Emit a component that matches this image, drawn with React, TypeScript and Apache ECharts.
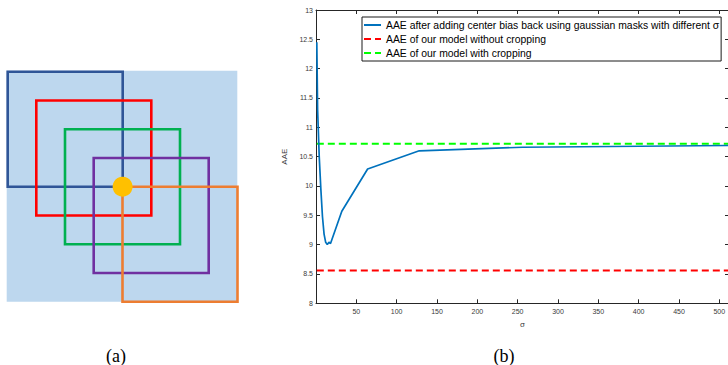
import React, { useEffect, useRef } from "react";
import * as echarts from "echarts";

// ---- data ----
const sigmaValues = [1, 2, 4, 6, 8, 10, 12, 14, 16, 18, 32, 64, 128, 256, 512];
const aaeGaussian = [12.45, 11.3, 10.5, 9.95, 9.48, 9.18, 9.04, 9.0, 9.04, 9.02, 9.57, 10.29, 10.6, 10.66, 10.69];
const aaeWithoutCropping = 8.56;
const aaeWithCropping = 10.72;
const sigmaRange = [0, 512];
const legendNames = [
  "AAE after adding center bias back using gaussian masks with different σ",
  "AAE of our model without cropping",
  "AAE of our model with cropping",
];
const captions = ["(a)", "(b)"];

export default function App() {
  const ref = useRef<HTMLDivElement>(null);

  useEffect(() => {
    if (!ref.current) return;
    const chart = echarts.init(ref.current, undefined, { renderer: "svg" });
    const axisColor = "#262626";
    const labelColor = "#3a3a3a";
    const font = "Liberation Sans, Arial, sans-serif";

    const baseX = {
      type: "value" as const,
      min: sigmaRange[0],
      max: sigmaRange[1],
      interval: 50,
      splitLine: { show: false },
      axisLine: { show: true, onZero: false, lineStyle: { color: axisColor, width: 1 } },
      axisTick: { show: true, inside: true, length: 4, lineStyle: { color: axisColor } },
    };
    const baseY = {
      type: "value" as const,
      min: 8,
      max: 13,
      interval: 0.5,
      splitLine: { show: false },
      axisLine: { show: true, onZero: false, lineStyle: { color: axisColor, width: 1 } },
      axisTick: { show: true, inside: true, length: 4, lineStyle: { color: axisColor } },
    };

    const squares = [
      { x: 7.7, y: 71.7, color: "#2F5597" },
      { x: 36.3, y: 100.5, color: "#FF0000" },
      { x: 65, y: 129.3, color: "#00B050" },
      { x: 93.7, y: 158, color: "#7030A0" },
      { x: 122.5, y: 186.7, color: "#ED7D31" },
    ];

    chart.setOption({
      animation: false,
      backgroundColor: "#ffffff",
      textStyle: { fontFamily: font },
      grid: { left: 316, top: 10, width: 413, height: 293.3 },
      legend: {
        orient: "vertical",
        left: 362,
        top: 17,
        padding: [3, 2, 3, 1],
        itemWidth: 17,
        itemHeight: 10,
        itemGap: 4,
        borderColor: "#1a1a1a",
        borderWidth: 1,
        backgroundColor: "#ffffff",
        itemStyle: { opacity: 0 },
        textStyle: { fontSize: 10.4, color: "#000", fontFamily: font },
        data: legendNames,
      },
      xAxis: [
        {
          ...baseX,
          position: "bottom",
          name: "σ",
          nameLocation: "middle",
          nameGap: 15,
          nameTextStyle: { fontSize: 8, color: labelColor, fontFamily: font },
          axisLabel: {
            fontSize: 7,
            color: labelColor,
            margin: 5,
            showMinLabel: false,
            showMaxLabel: false,
          },
        },
        { ...baseX, position: "top", axisLabel: { show: false } },
      ],
      yAxis: [
        {
          ...baseY,
          position: "left",
          name: "AAE",
          nameLocation: "middle",
          nameGap: 20,
          nameRotate: 90,
          nameTextStyle: { fontSize: 8, color: labelColor, fontFamily: font },
          axisLabel: { fontSize: 7, color: labelColor, margin: 3 },
        },
        { ...baseY, position: "right", axisLabel: { show: false } },
      ],
      series: [
        {
          name: legendNames[0],
          type: "line",
          xAxisIndex: 0,
          yAxisIndex: 0,
          symbol: "none",
          data: sigmaValues.map((s, i) => [s, aaeGaussian[i]]),
          lineStyle: { color: "#0072BD", width: 1.7 },
          itemStyle: { color: "#0072BD" },
          z: 3,
        },
        {
          name: legendNames[1],
          type: "line",
          xAxisIndex: 0,
          yAxisIndex: 0,
          symbol: "none",
          data: [
            [sigmaValues[0], aaeWithoutCropping],
            [sigmaRange[1], aaeWithoutCropping],
          ],
          lineStyle: { color: "#FF0000", width: 2, type: [7, 4] },
          itemStyle: { color: "#FF0000" },
          z: 2,
        },
        {
          name: legendNames[2],
          type: "line",
          xAxisIndex: 0,
          yAxisIndex: 0,
          symbol: "none",
          data: [
            [sigmaValues[0], aaeWithCropping],
            [sigmaRange[1], aaeWithCropping],
          ],
          lineStyle: { color: "#00FF00", width: 2, type: [7, 4] },
          itemStyle: { color: "#00FF00" },
          z: 2,
        },
      ],
      graphic: [
        {
          type: "rect",
          shape: { x: 6.7, y: 70.7, width: 230.6, height: 231 },
          style: { fill: "#BDD7EE" },
          z: 0,
        },
        ...squares.map((s, i) => ({
          type: "rect",
          shape: { x: s.x, y: s.y, width: 115, height: 115 },
          style: { fill: "none", stroke: s.color, lineWidth: 2.6 },
          z: 1 + i,
        })),
        {
          type: "circle",
          shape: { cx: 122.6, cy: 186.7, r: 10 },
          style: { fill: "#FFC000" },
          z: 10,
        },
        {
          type: "text",
          x: 116,
          y: 356,
          style: {
            text: captions[0],
            fontSize: 18,
            fontFamily: "Liberation Serif, Times New Roman, serif",
            fill: "#000",
            align: "center",
            verticalAlign: "middle",
          },
        },
        {
          type: "text",
          x: 504,
          y: 356,
          style: {
            text: captions[1],
            fontSize: 18,
            fontFamily: "Liberation Serif, Times New Roman, serif",
            fill: "#000",
            align: "center",
            verticalAlign: "middle",
          },
        },
      ],
    });

    return () => chart.dispose();
  }, []);

  return (
    <div
      style={{
        position: "fixed",
        left: 0,
        top: 0,
        width: 728,
        height: 365,
        overflow: "hidden",
        background: "#fff",
      }}
    >
      <div ref={ref} style={{ width: 740, height: 365 }} />
    </div>
  );
}
